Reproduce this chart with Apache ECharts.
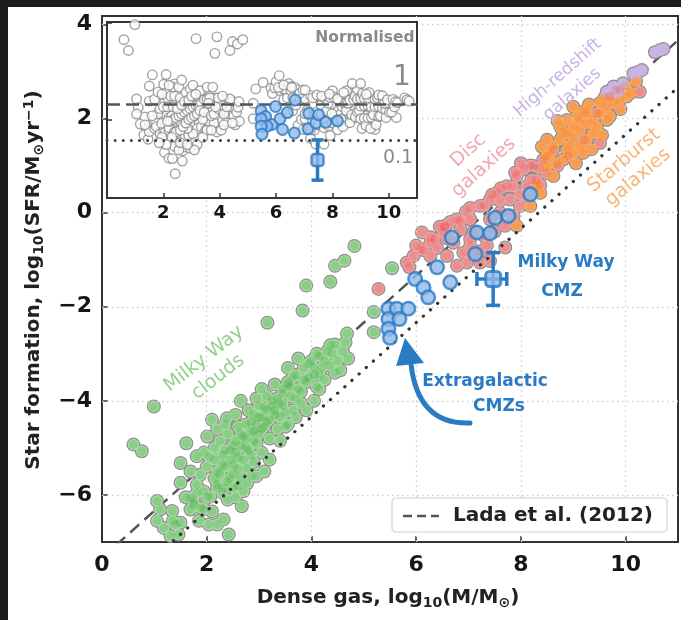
<!DOCTYPE html>
<html><head><meta charset="utf-8">
<script src="https://cdn.jsdelivr.net/npm/echarts@6/dist/echarts.min.js"></script>
<style>html,body{margin:0;padding:0;background:#fff;width:681px;height:620px;overflow:hidden}#c{width:681px;height:620px;display:block}</style>
</head><body><div id="c"></div>
<script>
// ---------- data ----------
const xTicks = [0, 2, 4, 6, 8, 10];
const yTicks = [-6, -4, -2, 0, 2, 4];
const insetXTicks = [2, 4, 6, 8, 10];
const insetYTicks = [2.28, -0.42];
const ladaIntercept = -7.337;   // Lada et al. (2012): SFR = 4.6e-8 M
const lowerOffset = -1;          // dotted relation, one dex below

const milkyWayClouds = [
[0.60,-4.93],[0.76,-5.07],[0.99,-4.12],
[1.05,-6.13],[1.11,-6.31],[1.34,-6.34],[1.05,-6.55],[1.18,-6.70],[1.40,-6.63],[1.31,-6.87],[1.46,-6.84],[1.50,-6.59],
[1.69,-6.31],[1.75,-6.13],[1.81,-5.96],[1.69,-6.06],[1.75,-6.20],[1.88,-6.27],[2.01,-6.06],[1.94,-5.92],[2.07,-6.03],[2.20,-5.85],
[2.04,-6.63],[2.20,-6.63],[2.32,-6.52],[2.42,-6.84],[2.67,-6.24],[2.70,-5.92],[2.77,-5.75],
[1.50,-5.74],[1.81,-5.78],[1.88,-5.57],[2.20,-5.50],[2.20,-5.78],[2.39,-5.71],[2.51,-5.85],[2.64,-5.64],[2.77,-5.43],[2.51,-5.36],
[1.69,-5.50],[1.50,-5.32],[1.81,-5.18],[1.61,-4.90],[2.01,-4.76],[2.39,-4.37],
[2.05,-5.20],[2.15,-5.00],[2.30,-5.15],[2.25,-4.85],[2.45,-5.05],[2.40,-4.70],[2.55,-4.85],[2.60,-4.55],[2.70,-4.75],[2.75,-5.00],
[2.60,-5.20],[2.85,-4.45],[2.90,-4.65],[2.95,-4.90],[3.00,-4.35],[3.05,-4.60],[3.10,-4.15],[3.15,-4.45],[3.20,-4.80],[3.25,-4.00],
[3.30,-4.30],[3.35,-4.60],[3.40,-4.05],[3.45,-3.85],[3.50,-4.25],[2.30,-5.35],[2.50,-5.55],[2.90,-5.30],[2.95,-5.60],[3.05,-5.10],
[3.20,-5.25],[3.10,-5.50],[2.35,-4.50],[2.20,-4.60],[2.10,-4.40],[2.55,-4.30],[2.80,-4.20],[2.65,-4.00],[2.95,-3.95],[3.05,-3.75],
[2.00,-5.40],[1.95,-5.10],[2.85,-5.15],
[3.55,-3.60],[3.60,-3.90],[3.65,-4.20],[3.70,-3.45],[3.75,-3.75],[3.80,-4.05],[3.85,-3.30],[3.90,-3.60],[3.90,-4.20],[4.00,-3.15],
[4.05,-3.45],[4.10,-3.70],[4.15,-3.05],[4.20,-3.30],[4.25,-3.55],[4.30,-2.95],[4.35,-3.25],[4.40,-3.00],[4.45,-2.80],[4.50,-3.15],
[4.55,-3.35],[4.60,-2.95],[4.65,-2.76],[4.68,-2.57],[4.70,-3.10],[3.50,-4.55],[3.55,-4.50],[3.70,-4.35],[4.05,-4.00],[3.40,-4.85],
[4.15,-3.75],[3.30,-3.65],[3.55,-3.30],[3.75,-3.10],[4.36,-2.82],[4.45,-3.40],
[2.25,-5.55],[2.35,-5.40],[2.45,-5.25],[2.55,-5.10],[2.65,-4.95],[2.75,-4.80],[2.85,-4.65],[2.95,-4.50],[3.05,-4.35],[3.15,-4.20],
[3.25,-4.10],[3.35,-3.95],[3.45,-3.75],[3.55,-3.65],[3.65,-3.50],[2.35,-5.85],[2.45,-5.65],[2.60,-5.45],[2.70,-5.25],[2.80,-5.05],
[2.90,-4.85],[3.00,-4.70],[3.10,-4.55],[3.20,-4.40],[3.30,-4.20],[3.40,-4.35],[3.45,-4.10],[2.15,-5.65],[2.30,-5.95],[2.40,-6.10],
[2.55,-6.05],[2.60,-5.80],[2.85,-5.60],[2.15,-5.25],[2.35,-5.05],[2.50,-4.95],[2.65,-4.70],[2.75,-4.50],[2.90,-4.30],[3.00,-4.10],
[3.15,-3.90],[1.95,-6.30],[2.10,-6.35],[1.60,-6.05],[1.35,-6.55],[1.85,-6.55],
[3.60,-3.70],[3.70,-3.95],[3.80,-3.80],[3.95,-3.50],[4.05,-3.30],[4.15,-3.45],[4.25,-3.15],[3.85,-3.55],[3.95,-3.20],[4.10,-3.00],
[3.16,-2.34],[3.83,-2.08],[3.90,-1.55],[4.36,-1.47],[4.45,-1.13],[4.63,-1.02],[4.82,-0.71],[5.54,-1.18],[5.19,-2.11],[5.19,-2.54]
];

const discGalaxies = [
[5.28,-1.62],[5.82,-1.06],[5.87,-1.16],[5.95,-0.92],[6.00,-0.70],[6.11,-0.42],[6.15,-0.80],[6.27,-0.64],[6.27,-0.92],[6.36,-0.56],
[6.40,-0.75],[6.45,-0.30],[6.52,-0.42],[6.55,-0.28],[6.59,-0.92],[6.60,-0.55],[6.65,-0.20],[6.71,-0.64],[6.78,-0.14],[6.78,-1.13],
[6.85,-0.35],[6.90,-0.85],[6.97,-1.06],[7.03,-0.71],[7.03,-0.14],[7.10,-0.40],[7.15,-0.85],[7.22,0.14],[7.22,-1.06],[7.29,-0.49],
[7.35,-0.70],[7.41,0.28],[7.41,-0.14],[7.50,-0.40],[7.54,0.42],[7.60,0.00],[7.60,0.25],[7.70,-0.28],[7.73,0.56],[7.79,0.28],
[7.85,0.55],[7.86,-0.07],[7.92,0.78],[7.98,0.14],[8.00,1.05],[8.05,0.92],[8.11,0.56],[8.11,0.35],[8.20,0.70],[8.24,0.99],
[8.30,0.70],[8.35,0.95],[8.43,1.13],[8.49,0.84],[8.62,1.34],[8.70,1.00],[8.90,1.20],[9.20,1.55],[9.45,2.11],[9.51,1.48],
[9.70,2.47],[9.89,2.61],[10.27,2.57],
[6.08,-0.78],[6.27,-0.52],[6.55,-0.31],[6.84,-0.18],[7.03,-0.56],[7.22,-0.82],[7.41,-1.03],[7.70,-0.74],[6.95,0.02],[7.30,0.15],
[7.03,0.10],[7.45,0.38],[7.62,0.52],[7.89,0.85],[8.18,1.00],[7.98,0.39],[8.37,0.59]
];

const starburstGalaxies = [
[7.92,-0.28],[8.18,0.14],[8.30,0.56],[8.37,0.42],[8.49,0.99],[8.49,1.20],[8.55,1.25],[8.62,0.78],[8.62,1.41],[8.68,1.06],
[8.75,1.55],[8.75,1.83],[8.80,1.70],[8.81,1.13],[8.88,1.34],[8.88,1.69],[8.88,1.97],[8.95,1.45],[9.00,1.27],[9.00,1.62],
[9.00,1.83],[9.05,1.05],[9.07,2.04],[9.13,1.41],[9.13,1.76],[9.13,1.97],[9.19,1.27],[9.26,1.55],[9.26,1.90],[9.26,2.11],
[9.35,1.35],[9.38,1.69],[9.38,1.97],[9.45,1.83],[9.51,2.11],[9.51,2.33],[9.55,1.65],[9.64,1.97],[9.64,2.25],[9.70,2.05],
[9.77,2.33],[9.89,2.40],[9.90,2.20],[10.02,2.47],[10.10,2.55],
[8.50,1.55],[8.70,1.95],[9.00,2.25],[9.30,2.30],[9.60,2.45],[9.80,2.60],[10.00,2.70],[10.20,2.80],[8.40,1.40],[9.20,2.15]
];

const highRedshiftGalaxies = [
[9.64,2.57],[9.77,2.68],[9.85,2.55],[9.95,2.75],[10.15,2.96],[10.24,2.99],[10.31,3.03],[10.56,3.41],[10.65,3.45],[10.72,3.48]
];

const extragalacticCMZs = [
[5.47,-2.04],[5.63,-2.04],[5.85,-2.04],[5.47,-2.26],[5.68,-2.26],[5.47,-2.47],[5.50,-2.66],[5.98,-1.41],[6.14,-1.59],[6.23,-1.80],
[6.40,-1.16],[6.65,-1.48],[6.68,-0.53],[7.13,-0.88],[7.16,-0.42],[7.41,-0.44],[7.51,-0.11],[7.76,-0.07],[8.18,0.39]
];

const milkyWayCMZ = [7.47, -1.41];
const milkyWayCMZxErr = [7.16, 7.73];
const milkyWayCMZyErr = [-1.97, -0.85];

// ---------- chart ----------
const FF = '"DejaVu Sans", sans-serif';
const BLUE = '#2b7bc4';
const chart = echarts.init(document.getElementById('c'), null, {renderer: 'canvas', width: 681, height: 620, devicePixelRatio: 1});

const ladaAt = x => x + ladaIntercept;
const norm = p => [p[0], p[1] - ladaAt(p[0])];
const ladaLine = [[0, ladaAt(0)], [11, ladaAt(11)]];
const lowerLine = [[0, ladaAt(0) + lowerOffset], [11, ladaAt(11) + lowerOffset]];

const allGray = milkyWayClouds.concat(discGalaxies, starburstGalaxies, highRedshiftGalaxies);

function pts(data, size, color, z, extra) {
  return Object.assign({type: 'scatter', xAxisIndex: 0, yAxisIndex: 0, data: data, symbol: 'circle',
    symbolSize: size, itemStyle: {color: color, opacity: 1}, z: z, silent: true, animation: false,
    emphasis: {disabled: true}}, extra || {});
}

function errRender(params, api) {
  const c = api.coord([api.value(0), api.value(1)]);
  const xl = api.coord([api.value(2), api.value(1)]);
  const xr = api.coord([api.value(3), api.value(1)]);
  const yb = api.coord([api.value(0), api.value(4)]);
  const yt = api.coord([api.value(0), api.value(5)]);
  const cap = params.seriesIndex > 12 ? 6 : 7;
  const st = {stroke: BLUE, lineWidth: 3.5, fill: null};
  const ch = [
    {type: 'line', shape: {x1: c[0], y1: yb[1], x2: c[0], y2: yt[1]}, style: st},
    {type: 'line', shape: {x1: c[0] - cap, y1: yb[1], x2: c[0] + cap, y2: yb[1]}, style: st},
    {type: 'line', shape: {x1: c[0] - cap, y1: yt[1], x2: c[0] + cap, y2: yt[1]}, style: st}
  ];
  if (Math.abs(xr[0] - xl[0]) > 1) {
    ch.push({type: 'line', shape: {x1: xl[0], y1: c[1], x2: xr[0], y2: c[1]}, style: st});
    ch.push({type: 'line', shape: {x1: xl[0], y1: c[1] - cap, x2: xl[0], y2: c[1] + cap}, style: st});
    ch.push({type: 'line', shape: {x1: xr[0], y1: c[1] - cap, x2: xr[0], y2: c[1] + cap}, style: st});
  }
  return {type: 'group', children: ch};
}

const yFmt = v => (v < 0 ? '\u2212' + (-v) : '' + v);

const series = [
  {type: 'line', xAxisIndex: 0, yAxisIndex: 0, data: [], z: 1, silent: true, animation: false,
   markLine: {silent: true, symbol: ['none', 'none'], label: {show: false}, animation: false,
     lineStyle: {color: '#cdcdcd', width: 1.3, type: [1.5, 3.5]},
     emphasis: {disabled: true},
     data: xTicks.filter(v => v > 0).map(v => ({xAxis: v})).concat(yTicks.map(v => ({yAxis: v})))}},
  {type: 'line', xAxisIndex: 0, yAxisIndex: 0, data: ladaLine, showSymbol: false, z: 2, silent: true, animation: false,
   lineStyle: {color: '#555', width: 2.5, type: [12, 7]}},
  pts(allGray, 14, '#909090', 3),
  pts(milkyWayClouds, 11.5, '#a9dca3', 4),
  pts(discGalaxies, 11.5, '#efa5a5', 4),
  pts(starburstGalaxies, 11.5, '#f9ab64', 4),
  pts(highRedshiftGalaxies, 11.5, '#c9b5e4', 4),
  pts(milkyWayClouds, 9, 'rgba(40,160,40,0.24)', 5),
  pts(discGalaxies, 9, 'rgba(225,50,50,0.2)', 5),
  pts(starburstGalaxies, 9, 'rgba(245,110,10,0.22)', 5),
  {type: 'line', xAxisIndex: 0, yAxisIndex: 0, data: lowerLine, showSymbol: false, z: 6, silent: true, animation: false,
   lineStyle: {color: '#333', width: 3.2, type: [0.1, 9.5], cap: 'round'}},
  pts(extragalacticCMZs, 13.5, '#91b9e8', 7, {itemStyle: {color: '#91b9e8', borderColor: BLUE, borderWidth: 2.5}}),
  {type: 'custom', xAxisIndex: 0, yAxisIndex: 0, z: 8, silent: true, animation: false, renderItem: errRender,
   data: [[milkyWayCMZ[0], milkyWayCMZ[1], milkyWayCMZxErr[0], milkyWayCMZxErr[1], milkyWayCMZyErr[0], milkyWayCMZyErr[1]]]},
  pts([milkyWayCMZ], 15, '#91b9e8', 9, {symbol: 'roundRect', itemStyle: {color: '#91b9e8', borderColor: BLUE, borderWidth: 3}}),

  // ---- inset ----
  {type: 'line', xAxisIndex: 1, yAxisIndex: 1, data: [], z: 11, silent: true, animation: false,
   markLine: {silent: true, symbol: ['none', 'none'], label: {show: false}, animation: false,
     lineStyle: {color: '#d8d8d8', width: 1.2, type: [1.5, 3.5]},
     emphasis: {disabled: true},
     data: insetXTicks.map(v => ({xAxis: v}))}},
  {type: 'scatter', xAxisIndex: 1, yAxisIndex: 1, data: allGray.map(norm), symbolSize: 9.5, z: 12, silent: true, animation: false,
   itemStyle: {color: '#ffffff', borderColor: '#8c8c8c', borderWidth: 1.4}},
  {type: 'line', xAxisIndex: 1, yAxisIndex: 1, data: [[0, 0], [11, 0]], showSymbol: false, z: 13, silent: true, animation: false,
   lineStyle: {color: '#555', width: 2.5, type: [13, 6]}},
  {type: 'line', xAxisIndex: 1, yAxisIndex: 1, data: [[0, lowerOffset], [11, lowerOffset]], showSymbol: false, z: 13, silent: true, animation: false,
   lineStyle: {color: '#444', width: 3, type: [0.1, 8], cap: 'round'}},
  {type: 'scatter', xAxisIndex: 1, yAxisIndex: 1, data: extragalacticCMZs.map(norm), symbolSize: 11, z: 14, silent: true, animation: false,
   itemStyle: {color: '#91b9e8', borderColor: BLUE, borderWidth: 2}},
  {type: 'custom', xAxisIndex: 1, yAxisIndex: 1, z: 15, silent: true, animation: false, renderItem: errRender,
   data: [[milkyWayCMZ[0], norm(milkyWayCMZ)[1], milkyWayCMZ[0], milkyWayCMZ[0],
           milkyWayCMZyErr[0] - ladaAt(milkyWayCMZ[0]), milkyWayCMZyErr[1] - ladaAt(milkyWayCMZ[0])]]},
  {type: 'scatter', xAxisIndex: 1, yAxisIndex: 1, data: [norm(milkyWayCMZ)], symbol: 'roundRect', symbolSize: 12, z: 16, silent: true, animation: false,
   itemStyle: {color: '#91b9e8', borderColor: BLUE, borderWidth: 2.5}}
];

function txt(x, y, text, size, weight, color, rot, lh, align) {
  return {type: 'text', x: x, y: y, rotation: rot || 0, z: 100, silent: true,
    style: {text: text, fill: color, fontSize: size, fontWeight: weight, fontFamily: FF,
      align: align || 'center', verticalAlign: 'middle', textAlign: align || 'center', textVerticalAlign: 'middle',
      lineHeight: lh || Math.round(size * 1.2)}};
}

const titleRich = {
  a: {fontSize: 20, fontWeight: 'bold', fontFamily: FF, fill: '#222', color: '#222', lineHeight: 24},
  s: {fontSize: 14, fontWeight: 'bold', fontFamily: FF, fill: '#222', color: '#222', lineHeight: 10, verticalAlign: 'bottom'},
  p: {fontSize: 14, fontWeight: 'bold', fontFamily: FF, fill: '#222', color: '#222', lineHeight: 14, verticalAlign: 'top'}
};

const deg = Math.PI / 180;
const graphic = [
  {type: 'rect', shape: {x: 0, y: 0, width: 8, height: 620}, style: {fill: '#1d1d1d'}, z: 200, silent: true},
  {type: 'rect', shape: {x: 0, y: 0, width: 681, height: 7}, style: {fill: '#1d1d1d'}, z: 200, silent: true},
  {type: 'rect', shape: {x: 679.5, y: 7, width: 2, height: 613}, style: {fill: '#ffffff'}, z: 200, silent: true},
  {type: 'text', x: 388, y: 598, z: 100, silent: true,
   style: {text: '{a|Dense gas, log}{s|10}{a|(M/M}{s|\u2299}{a|)}', rich: titleRich, align: 'center', verticalAlign: 'middle', textAlign: 'center', textVerticalAlign: 'middle'}},
  {type: 'text', x: 34, y: 280, rotation: Math.PI / 2, z: 100, silent: true,
   style: {text: '{a|Star formation, log}{s|10}{a|(SFR/M}{s|\u2299}{a|yr}{p|\u22121}{a|)}', rich: titleRich, align: 'center', verticalAlign: 'middle', textAlign: 'center', textVerticalAlign: 'middle'}},
  txt(211, 368, 'Milky Way\nclouds', 19, 'normal', '#93d08c', 38 * deg, 23),
  txt(476, 159, 'Disc\ngalaxies', 19, 'normal', '#f3a7ae', 42 * deg, 23),
  txt(565, 86, 'High-redshift\ngalaxies', 17, 'normal', '#c7b4e2', 41 * deg, 22),
  txt(631, 169, 'Starburst\ngalaxies', 19, 'normal', '#f8b57a', 40 * deg, 22),
  txt(566, 263, 'Milky Way', 17, 'bold', BLUE),
  txt(562, 292, 'CMZ', 17, 'bold', BLUE),
  txt(485, 382, 'Extragalactic', 17, 'bold', BLUE),
  txt(499, 407, 'CMZs', 17, 'bold', BLUE),
  {type: 'bezierCurve', z: 100, silent: true, shape: {x1: 470, y1: 423, cpx1: 418, cpy1: 425, x2: 411, y2: 364},
   style: {stroke: BLUE, lineWidth: 5, fill: null, lineCap: 'round'}},
  {type: 'polygon', z: 100, silent: true, shape: {points: [[405, 338], [396, 366], [424, 363]]}, style: {fill: BLUE}},
  txt(365, 38, 'Normalised', 15.5, 'bold', '#8a8a8a'),
  txt(402, 78, '1', 28, 'normal', '#8a8a8a'),
  txt(398, 158, '0.1', 19, 'normal', '#8a8a8a'),
  {type: 'rect', z: 100, silent: true, shape: {x: 392, y: 498, width: 275, height: 34, r: 4},
   style: {fill: '#fff', stroke: '#cfcfcf', lineWidth: 1.2}},
  {type: 'line', z: 101, silent: true, shape: {x1: 403, y1: 516, x2: 439, y2: 516},
   style: {stroke: '#555', lineWidth: 2.5, lineDash: [9, 5]}},
  txt(453, 516, 'Lada et al. (2012)', 20, 'bold', '#222', 0, 24, 'left')
];

const option = {
  animation: false,
  backgroundColor: '#ffffff',
  grid: [
    {left: 102, top: 16, width: 576, height: 526, show: true, borderColor: '#333', borderWidth: 2, backgroundColor: '#fff', z: 0},
    {left: 107, top: 22, width: 310, height: 176, show: true, borderColor: '#333', borderWidth: 2, backgroundColor: '#fff', z: 10}
  ],
  xAxis: [
    {type: 'value', gridIndex: 0, min: 0, max: 11, z: 1,
     axisLine: {show: true, onZero: false, lineStyle: {color: '#333', width: 2}},
     axisTick: {show: true, inside: true, length: 6, customValues: xTicks, lineStyle: {color: '#333', width: 1.5}},
     axisLabel: {show: true, customValues: xTicks, margin: 12, fontSize: 22, fontWeight: 'bold', fontFamily: FF, color: '#151515'},
     splitLine: {show: false}},
    {type: 'value', gridIndex: 1, min: 0, max: 11, z: 11,
     axisLine: {show: true, onZero: false, lineStyle: {color: '#333', width: 2}},
     axisTick: {show: true, inside: true, length: 5, customValues: insetXTicks, lineStyle: {color: '#333', width: 1.5}},
     axisLabel: {show: true, customValues: insetXTicks, margin: 6, fontSize: 18, fontWeight: 'bold', fontFamily: FF, color: '#151515'},
     splitLine: {show: false}}
  ],
  yAxis: [
    {type: 'value', gridIndex: 0, min: -7, max: 4.18, z: 1,
     axisLine: {show: true, onZero: false, lineStyle: {color: '#333', width: 2}},
     axisTick: {show: true, inside: true, length: 6, customValues: yTicks, lineStyle: {color: '#333', width: 1.5}},
     axisLabel: {show: true, customValues: yTicks, margin: 10, fontSize: 22, fontWeight: 'bold', fontFamily: FF, color: '#151515', formatter: yFmt},
     splitLine: {show: false}},
    {type: 'value', gridIndex: 1, min: -2.6, max: 2.3, z: 11,
     axisLine: {show: true, onZero: false, lineStyle: {color: '#333', width: 2}},
     axisTick: {show: true, inside: true, length: 5, customValues: insetYTicks, lineStyle: {color: '#333', width: 1.5}},
     axisLabel: {show: false},
     splitLine: {show: false}}
  ],
  series: series,
  graphic: graphic
};
chart.setOption(option);
</script>
</body></html>
